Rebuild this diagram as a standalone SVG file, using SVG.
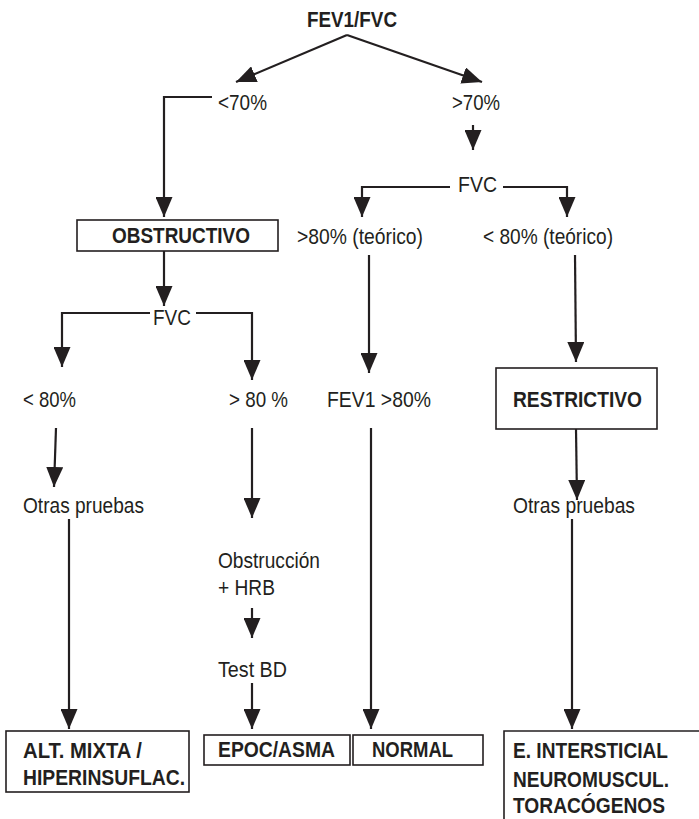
<svg xmlns="http://www.w3.org/2000/svg" width="699" height="819" viewBox="0 0 699 819">
  <style>
    text { font-family: "Liberation Sans", Arial, sans-serif; fill: #231f20; font-size: 22px; }
    .b { font-weight: bold; }
    .box { fill: #ffffff; stroke: #231f20; stroke-width: 1.6; }
    .c { fill: none; stroke: #231f20; stroke-width: 2.2; }
    .a { marker-end: url(#head); }
  </style>
  <defs>
    <marker id="head" markerUnits="userSpaceOnUse" markerWidth="20" markerHeight="17" refX="20" refY="8.5" orient="auto" viewBox="0 0 20 17">
      <path d="M0,0 L20,8.5 L0,17 z" fill="#231f20"/>
    </marker>
  </defs>
  <rect width="699" height="819" fill="#ffffff"/>

  <!-- connectors -->
  <g id="connectors">
    <line class="c a" x1="347" y1="35" x2="236" y2="82"/>
    <line class="c a" x1="347" y1="35" x2="482" y2="82"/>
    <path class="c a" d="M212,97 H164 V217"/>
    <line class="c a" x1="473" y1="125" x2="473" y2="150"/>
    <path class="c a" d="M450,187 H362 V217"/>
    <path class="c a" d="M503,187 H567 V217"/>
    <line class="c a" x1="369" y1="255" x2="369" y2="373"/>
    <line class="c a" x1="575" y1="255" x2="576" y2="362"/>
    <line class="c a" x1="164" y1="251" x2="164" y2="306"/>
    <path class="c a" d="M150,313 H62 V367"/>
    <path class="c a" d="M196,313 H252 V380"/>
    <line class="c a" x1="56" y1="428" x2="54" y2="487"/>
    <line class="c a" x1="252" y1="428" x2="252" y2="518"/>
    <line class="c a" x1="252" y1="608" x2="252" y2="638"/>
    <line class="c a" x1="252" y1="683" x2="252" y2="729"/>
    <line class="c a" x1="69" y1="519" x2="69" y2="729"/>
    <line class="c a" x1="371" y1="428" x2="371" y2="729"/>
    <line class="c a" x1="576" y1="429" x2="577" y2="500"/>
    <line class="c a" x1="572" y1="519" x2="572" y2="729"/>
  </g>

  <!-- decision labels -->
  <g id="fev1fvc"><text class="b" x="307" y="27" font-size="19" textLength="90" lengthAdjust="spacingAndGlyphs">FEV1/FVC</text></g>
  <g id="lt70"><text x="218" y="110" textLength="49" lengthAdjust="spacingAndGlyphs">&lt;70%</text></g>
  <g id="gt70"><text x="452" y="110" textLength="48" lengthAdjust="spacingAndGlyphs">&gt;70%</text></g>
  <g id="fvc-right"><text x="458" y="192" textLength="39" lengthAdjust="spacingAndGlyphs">FVC</text></g>
  <g id="gt80-teorico"><text x="297" y="244" textLength="126" lengthAdjust="spacingAndGlyphs">&gt;80% (teórico)</text></g>
  <g id="lt80-teorico"><text x="483" y="244" textLength="130" lengthAdjust="spacingAndGlyphs">&lt; 80% (teórico)</text></g>

  <g id="obstructivo">
    <rect class="box" x="77" y="220" width="201" height="31"/>
    <text class="b" x="112" y="243" textLength="138" lengthAdjust="spacingAndGlyphs">OBSTRUCTIVO</text>
  </g>
  <g id="fvc-left"><text x="153" y="325" textLength="38" lengthAdjust="spacingAndGlyphs">FVC</text></g>
  <g id="lt80"><text x="23" y="407" textLength="53" lengthAdjust="spacingAndGlyphs">&lt; 80%</text></g>
  <g id="gt80"><text x="229" y="407" textLength="59" lengthAdjust="spacingAndGlyphs">&gt; 80 %</text></g>
  <g id="fev1-gt80"><text x="327" y="407" textLength="104" lengthAdjust="spacingAndGlyphs">FEV1 &gt;80%</text></g>

  <g id="restrictivo">
    <rect class="box" x="496" y="368" width="161" height="61"/>
    <text class="b" x="513" y="407" textLength="129" lengthAdjust="spacingAndGlyphs">RESTRICTIVO</text>
  </g>

  <g id="otras-left"><text x="23" y="513" textLength="121" lengthAdjust="spacingAndGlyphs">Otras pruebas</text></g>
  <g id="otras-right"><text x="513" y="513" textLength="122" lengthAdjust="spacingAndGlyphs">Otras pruebas</text></g>

  <g id="obstruccion-hrb">
    <text x="218" y="568" textLength="102" lengthAdjust="spacingAndGlyphs">Obstrucción</text>
    <text x="218" y="595" textLength="57" lengthAdjust="spacingAndGlyphs">+ HRB</text>
  </g>
  <g id="test-bd"><text x="218" y="677" textLength="69" lengthAdjust="spacingAndGlyphs">Test BD</text></g>

  <!-- outcomes -->
  <g id="alt-mixta">
    <rect class="box" x="6" y="731" width="183" height="61"/>
    <text class="b" x="23" y="758" textLength="119" lengthAdjust="spacingAndGlyphs">ALT. MIXTA /</text>
    <text class="b" x="23" y="785" textLength="162" lengthAdjust="spacingAndGlyphs">HIPERINSUFLAC.</text>
  </g>
  <g id="epoc-asma">
    <rect class="box" x="204" y="735" width="146" height="30"/>
    <text class="b" x="218" y="757" textLength="117" lengthAdjust="spacingAndGlyphs">EPOC/ASMA</text>
  </g>
  <g id="normal">
    <rect class="box" x="353" y="735" width="130" height="30"/>
    <text class="b" x="372" y="757" textLength="81" lengthAdjust="spacingAndGlyphs">NORMAL</text>
  </g>
  <g id="intersticial">
    <path class="box" d="M504,820 V731 H700" fill="none"/>
    <text class="b" x="513" y="758" textLength="155" lengthAdjust="spacingAndGlyphs">E. INTERSTICIAL</text>
    <text class="b" x="513" y="787" textLength="156" lengthAdjust="spacingAndGlyphs">NEUROMUSCUL.</text>
    <text class="b" x="513" y="813" textLength="152" lengthAdjust="spacingAndGlyphs">TORACÓGENOS</text>
  </g>
</svg>
